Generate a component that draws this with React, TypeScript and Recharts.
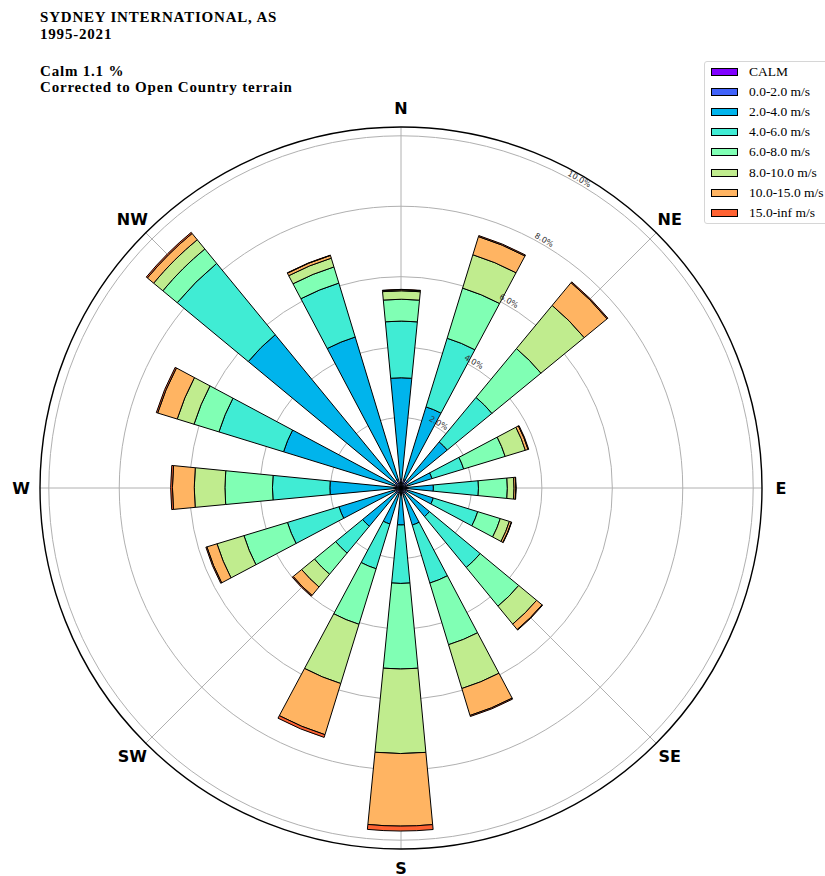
import { RadialBarChart, RadialBar, PolarAngleAxis, PolarRadiusAxis, PolarGrid } from 'recharts';

const directions = ['N', 'NNE', 'NE', 'ENE', 'E', 'ESE', 'SE', 'SSE', 'S', 'SSW', 'SW', 'WSW', 'W', 'WNW', 'NW', 'NNW'];
const labelledDirections = ['N', 'NE', 'E', 'SE', 'S', 'SW', 'W', 'NW'];

// frequency (%) per direction, one array per speed bin
const speed0to2 = [0.25, 0.25, 0.25, 0.2, 0.2, 0.2, 0.2, 0.2, 0.2, 0.2, 0.2, 0.2, 0.2, 0.2, 0.25, 0.25];
const speed2to4 = [2.88, 2.16, 1.45, 0.72, 0.72, 0.76, 0.85, 0.9, 0.85, 0.87, 1.21, 1.64, 1.82, 3.29, 5.38, 4.23];
const speed4to6 = [1.61, 2.04, 1.64, 0.94, 1.28, 1.32, 1.87, 1.72, 1.66, 1.33, 0.99, 1.53, 1.63, 1.92, 2.62, 1.6];
const speed6to8 = [0.62, 1.49, 1.8, 1.23, 0.82, 0.67, 1.42, 1.83, 2.43, 1.65, 0.78, 1.29, 1.35, 0.74, 0.53, 0.48];
const speed8to10 = [0.24, 0.99, 1.59, 0.6, 0.19, 0.27, 0.66, 1.3, 2.4, 1.76, 0.47, 0.8, 0.87, 0.5, 0.34, 0.26];
const speed10to15 = [0.03, 0.54, 0.84, 0.08, 0.05, 0.06, 0.2, 0.8, 2.06, 1.52, 0.31, 0.3, 0.62, 0.58, 0.23, 0.08];
const speed15plus = [0.01, 0.03, 0.03, 0.02, 0.01, 0.01, 0.02, 0.03, 0.14, 0.08, 0.03, 0.03, 0.05, 0.04, 0.04, 0.01];

const calmPct = 1.1;
const radiusTicks = [2, 4, 6, 8, 10];

const bins = [
  { key: 'b0', name: '0.0-2.0 m/s', color: '#4062fa', values: speed0to2 },
  { key: 'b1', name: '2.0-4.0 m/s', color: '#00b4ec', values: speed2to4 },
  { key: 'b2', name: '4.0-6.0 m/s', color: '#40ecd4', values: speed4to6 },
  { key: 'b3', name: '6.0-8.0 m/s', color: '#80ffb4', values: speed6to8 },
  { key: 'b4', name: '8.0-10.0 m/s', color: '#c0ec8e', values: speed8to10 },
  { key: 'b5', name: '10.0-15.0 m/s', color: '#ffb462', values: speed10to15 },
  { key: 'b6', name: '15.0-inf m/s', color: '#ff6232', values: speed15plus },
];

const legendItems = [{ name: 'CALM', color: '#8000ff' }, ...bins];

const data = directions.map((dir, i) => {
  const row: Record<string, any> = { dir };
  bins.forEach((b) => {
    row[b.key] = b.values[i];
  });
  return row;
});

const W = 825;
const H = 876;
const CX = 401;
const CY = 488;
const R = 361;
const RMAX = 10.25;
const SECTOR = 360 / directions.length;

// the band scale runs clockwise, so the first band starts half a sector right of north
const START = 90 - SECTOR / 2;

const gridAngles = labelledDirections.map((d) => 90 - directions.indexOf(d) * SECTOR);

const DirTick = (props: any) => {
  const { payload } = props;
  if (!labelledDirections.includes(payload.value)) return <g />;
  const a = ((90 - directions.indexOf(payload.value) * SECTOR) * Math.PI) / 180;
  const x = CX + (R + 19) * Math.cos(a);
  const y = CY - (R + 19) * Math.sin(a);
  return (
    <text
      x={x}
      y={y}
      textAnchor="middle"
      dominantBaseline="central"
      fontFamily="DejaVu Sans"
      fontWeight="bold"
      fontSize={16}
      fill="#000"
    >
      {payload.value}
    </text>
  );
};

const PctTick = (props: any) => {
  const { x, y, payload } = props;
  return (
    <text
      x={x}
      y={y - 2}
      transform={`rotate(30 ${x} ${y})`}
      textAnchor="middle"
      fontFamily="DejaVu Sans"
      fontSize={8}
      fill="#333"
    >
      {`${Number(payload.value).toFixed(1)}%`}
    </text>
  );
};

const serif = '"Liberation Serif", "DejaVu Serif", serif';
const titleStyle = {
  position: 'absolute' as const,
  left: 40,
  fontFamily: serif,
  fontWeight: 'bold' as const,
  fontSize: 15,
  letterSpacing: '0.8px',
  lineHeight: '16.7px',
  color: '#000',
  whiteSpace: 'nowrap' as const,
};

export default function App() {
  return (
    <div style={{ position: 'absolute', left: 0, top: 0, width: W, height: H, overflow: 'hidden', background: '#fff' }}>
      <RadialBarChart
        width={W}
        height={H}
        data={data}
        layout="centric"
        cx={CX}
        cy={CY}
        innerRadius={0}
        outerRadius={R}
        startAngle={START}
        endAngle={START - 360}
        barCategoryGap="25%"
        margin={{ top: 0, right: 0, bottom: 0, left: 0 }}
      >
        <PolarGrid gridType="circle" polarAngles={gridAngles} stroke="#b0b0b0" strokeWidth={1} />
        {bins.map((b) => (
          <RadialBar
            key={b.key}
            dataKey={b.key}
            name={b.name}
            stackId="rose"
            fill={b.color}
            stroke="#000"
            strokeWidth={1}
            isAnimationActive={false}
          />
        ))}
        <PolarAngleAxis
          type="category"
          dataKey="dir"
          axisLineType="circle"
          axisLine={{ stroke: '#000', strokeWidth: 1.4 }}
          tickLine={false}
          tick={DirTick}
        />
        <PolarRadiusAxis
          type="number"
          angle={60}
          domain={[0, RMAX]}
          ticks={radiusTicks}
          axisLine={false}
          tickLine={false}
          tick={PctTick}
        />
      </RadialBarChart>

      <div style={{ ...titleStyle, top: 9.3 }}>
        <div>SYDNEY INTERNATIONAL, AS</div>
        <div>1995-2021</div>
      </div>
      <div style={{ ...titleStyle, top: 62.6 }}>
        <div>{`Calm ${calmPct} %`}</div>
        <div>Corrected to Open Country terrain</div>
      </div>

      <div
        style={{
          position: 'absolute',
          left: 704,
          top: 61,
          width: 126,
          height: 161,
          border: '1px solid #d6d6d6',
          borderRadius: 3,
          background: 'rgba(255,255,255,0.8)',
          fontFamily: serif,
          fontSize: 13.5,
        }}
      >
        {legendItems.map((item, i) => (
          <div key={item.name} style={{ position: 'absolute', left: 0, top: i * 20.1, height: 20, display: 'flex', alignItems: 'center' }}>
            <div style={{ marginLeft: 6, width: 25, height: 6, background: item.color, border: '1px solid #000' }} />
            <div style={{ marginLeft: 11, whiteSpace: 'nowrap' }}>{item.name}</div>
          </div>
        ))}
      </div>
    </div>
  );
}
